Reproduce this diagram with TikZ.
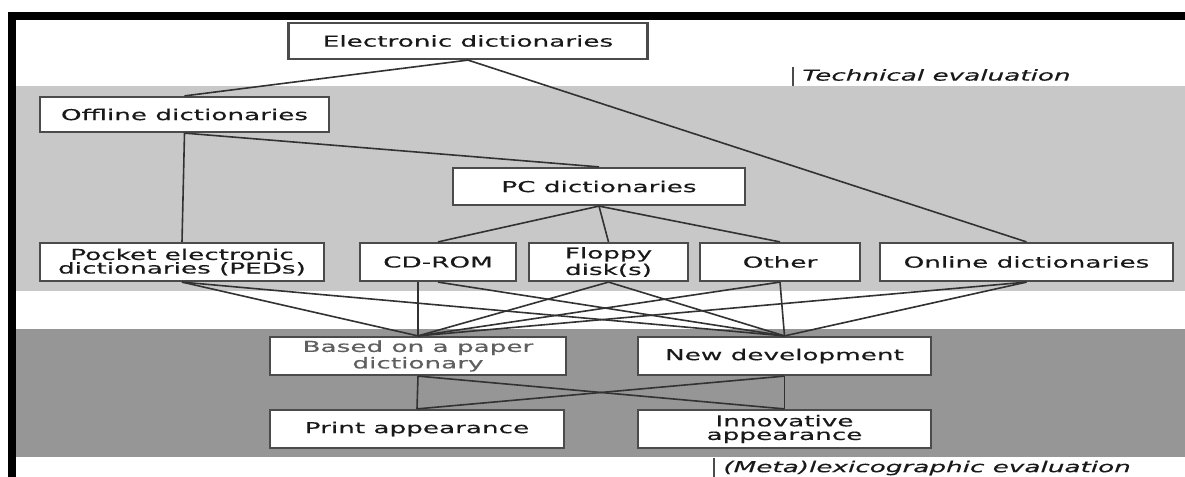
\documentclass[tikz,border=0pt]{standalone}
\usepackage{fontspec}
\setmainfont[FakeStretch=1.75, FakeBold=0.3]{DejaVu Sans}

\definecolor{bandlight}{RGB}{200,200,200}
\definecolor{banddark}{RGB}{150,150,150}
\definecolor{boxline}{RGB}{75,75,75}
\definecolor{wirecol}{RGB}{50,50,50}
\definecolor{inktext}{RGB}{25,25,25}
\definecolor{softtext}{RGB}{95,95,95}

\tikzset{
  dictbox/.style={draw=boxline, line width=1.1pt, fill=white, text=inktext, align=center,
    inner sep=0pt, minimum height=18.5pt, font=\fontsize{7.5}{6.8}\selectfont},
  wire/.style={draw=wirecol, line width=0.8pt},
  evallabel/.style={anchor=west, inner sep=0pt, text=inktext, font=\fontsize{7.5}{7}\selectfont\itshape},
}

\begin{document}
\begin{tikzpicture}[x=0.5pt, y=-0.5pt]
\useasboundingbox (0,0) rectangle (1185,477);

% Background bands and frame
\fill[white] (0,0) rectangle (1185,477);
\fill[bandlight] (16,86) rectangle (1185,291); % technical part
\fill[banddark] (16,329) rectangle (1185,457); % lexicographic part
\fill[black] (8,12) rectangle (1185,20);
\fill[black] (8,12) rectangle (16,477);

% Evaluation labels
\draw[boxline, line width=1.3pt] (793,67) -- (793,86);
\node[evallabel] (techeval) at (802,75) {Technical evaluation};
\draw[boxline, line width=1.3pt] (714,458) -- (714,477);
\node[evallabel] (metaeval) at (723,468) {(Meta)lexicographic evaluation};

% Dictionary types
\node[dictbox, minimum width=179.5pt, minimum height=18pt] (elec) at (468,41) {Electronic dictionaries};
\node[dictbox, minimum width=144.5pt, minimum height=17.5pt] (offline) at (184.5,114.5) {Offline dictionaries};
\node[dictbox, minimum width=146pt] (pc) at (599,186.5) {PC dictionaries};

% Storage media
\node[dictbox, minimum width=142pt, minimum height=19pt] (peds) at (182,262) {Pocket electronic\\dictionaries (PEDs)};
\node[dictbox, minimum width=78pt, minimum height=19pt] (cdrom) at (438,262) {CD-ROM};
\node[dictbox, minimum width=79.5pt, minimum height=19pt] (floppy) at (608.5,262) {Floppy\\disk(s)};
\node[dictbox, minimum width=80pt, minimum height=19pt] (other) at (780,262) {Other};
\node[dictbox, minimum width=146.5pt, minimum height=19pt] (online) at (1026.5,262) {Online dictionaries};

% Origin and appearance
\node[dictbox, minimum width=148pt, minimum height=19pt, text=softtext] (paper) at (418,356) {Based on a paper\\dictionary};
\node[dictbox, minimum width=146.5pt, minimum height=19pt] (newdev) at (784.5,356) {New development};
\node[dictbox, minimum width=147pt, minimum height=19pt] (print) at (417,429) {Print appearance};
\node[dictbox, minimum width=146.5pt, minimum height=19pt] (innov) at (784.5,429) {Innovative\\appearance};

% Connections
\draw[wire] (elec.south) -- (offline.north);
\draw[wire] (elec.south) -- (online.north);
\draw[wire] (offline.south) -- (peds.north);
\draw[wire] (offline.south) -- (pc.north);
\foreach \n in {cdrom,floppy,other}
    \draw[wire] (pc.south) -- (\n.north);
\foreach \n in {peds,floppy,other,online}
    \draw[wire] (\n.south) -- (paper.north);
\draw[wire] (paper.north |- cdrom.south) -- (paper.north);
\foreach \n in {peds,cdrom,floppy,other,online}
    \draw[wire] (\n.south) -- (newdev.north);
\foreach \n in {paper,newdev} {
    \draw[wire] (\n.south) -- (print.north);
    \draw[wire] (\n.south) -- (innov.north);
}

\end{tikzpicture}
\end{document}
